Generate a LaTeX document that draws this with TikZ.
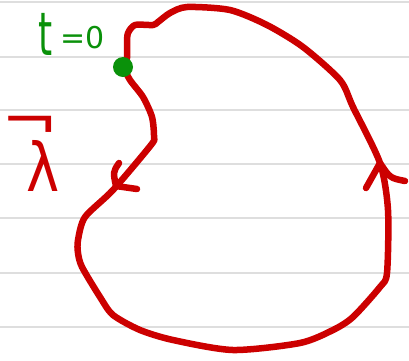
\documentclass[tikz,border=0pt]{standalone}
\usepackage{fontspec}
\setsansfont{DejaVu Sans}
\definecolor{inkred}{RGB}{204,0,0}
\definecolor{inkgreen}{RGB}{10,145,10}
\definecolor{ruled}{RGB}{222,222,222}
\begin{document}
\begin{tikzpicture}[x=1pt,y=-1pt,
  ruling/.style={draw=ruled,line width=2pt},
  curve/.style={draw=inkred,line width=6.5pt,line cap=round,line join=round},
  greenlabel/.style={text=inkgreen,font=\sffamily,inner sep=0pt},
  redlabel/.style={text=inkred,font=\sffamily,inner sep=0pt}]
\useasboundingbox (0,0) rectangle (409,360);
\fill[white] (0,0) rectangle (409,360);
\foreach \y in {2,57,110,164,218,273,327} \draw[ruling] (0,\y) -- (409,\y);
% loop
\draw[curve] plot[smooth cycle,tension=0.45] coordinates {
 (124,67) (130,80) (143,97) (152,117) (154,137) (151,145) (113,190)
 (85,217) (78,240) (78,253) (82,267) (100,297) (113,315) (140,330) (173,340)
 (233,350) (300,343) (333,330) (353,317) (380,287) (387,273) (388,210)
 (380,163) (353,107) (340,80) (303,47) (267,25) (230,10) (187,7)
 (170,13) (158,22) (153,25) (135,25) (128,33) (127,43) (127,58)};
% arrowheads
\draw[curve] (119,163) .. controls (113,172) .. (116,186) -- (137,189);
\draw[curve] (366,188) -- (380,163) .. controls (390,178) .. (405,181);
% start point
\coordinate (start) at (123,67);
\fill[inkgreen] (start) circle (10);
\node[greenlabel,anchor=base west] (t) at (38,55) {\scalebox{0.9}[1.5]{\fontsize{40}{40}\selectfont t}};
\node[greenlabel,anchor=base west] (eq) at (60,48) {\fontsize{30}{30}\selectfont =0};
\node[redlabel,anchor=base] (lam) at (43,191) {\fontsize{56}{56}\selectfont\makebox[0pt]{\hspace*{8pt}\raisebox{51pt}{\scalebox{1.9}[1.6]{\fontsize{36}{36}\selectfont ¬}}}\scalebox{1}[1.2]{λ}};
\end{tikzpicture}
\end{document}
